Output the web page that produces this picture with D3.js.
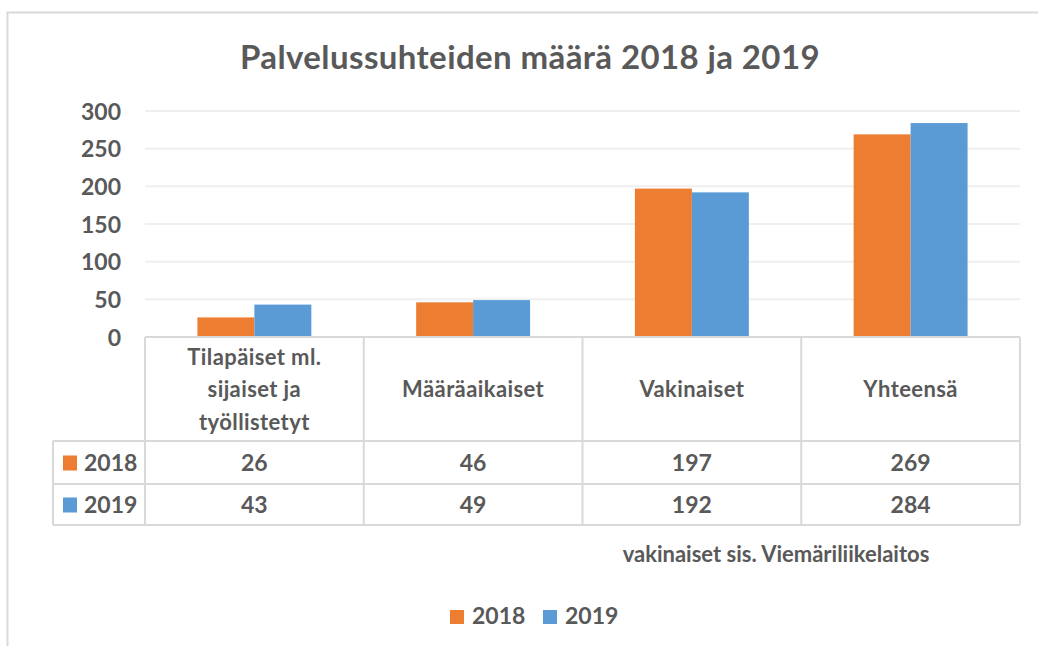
<!DOCTYPE html>
<html>
<head>
<meta charset="utf-8">
<script src="https://cdn.jsdelivr.net/npm/d3@7"></script>
<style>
  body { margin: 0; background: #fff; }
  text { font-family: Lato, "Open Sans", sans-serif; font-weight: bold; fill: #595959; }
</style>
</head>
<body>
<div id="chart"></div>
<script>
// chart data
const categories = [
  ['Tilapäiset ml.', 'sijaiset ja', 'työllistetyt'],
  ['Määräaikaiset'],
  ['Vakinaiset'],
  ['Yhteensä']
]
const years = ['2018', '2019']
const values2018 = [26, 46, 197, 269]
const values2019 = [43, 49, 192, 284]
const yTicks = [0, 50, 100, 150, 200, 250, 300]
const colors = ['#ED7D31', '#5B9BD5']

const width = 1038, height = 646
const plot = { left: 145, right: 1020, top: 111, bottom: 337 }
const tableLeft = 53
const rowEdges = [337, 441, 484, 525]

const svg = d3.select('#chart').append('svg')
  .attr('width', width)
  .attr('height', height)

// outer frame (only top and left edges are visible in the picture)
svg.append('path')
  .attr('d', `M7.5,${height} V12.5 H${width}`)
  .attr('fill', 'none')
  .attr('stroke', '#d9d9d9')
  .attr('stroke-width', 2)

svg.append('text')
  .attr('x', 530)
  .attr('y', 69)
  .attr('text-anchor', 'middle')
  .style('font-size', '33px')
  .style('letter-spacing', '0.4px')
  .text('Palvelussuhteiden määrä 2018 ja 2019')

const y = d3.scaleLinear().domain([0, 300]).range([plot.bottom, plot.top])
const keys = categories.map((c, i) => i)
const x = d3.scaleBand().domain(keys).range([plot.left, plot.right])
const xInner = d3.scaleBand().domain(years).range([0, x.bandwidth()]).paddingInner(0).paddingOuter(0.92)

// gridlines
svg.append('g')
  .selectAll('line')
  .data(yTicks.filter(d => d > 0))
  .join('line')
  .attr('x1', plot.left)
  .attr('x2', plot.right)
  .attr('y1', d => y(d))
  .attr('y2', d => y(d))
  .attr('stroke', '#efefef')
  .attr('stroke-width', 2)

// y labels
svg.append('g')
  .selectAll('text')
  .data(yTicks)
  .join('text')
  .attr('x', 121)
  .attr('y', d => y(d) + 8.5)
  .attr('text-anchor', 'end')
  .style('font-size', '23px')
  .text(d => d)

// bars
const series = [values2018, values2019]
const barGroup = svg.append('g')
series.forEach((vals, s) => {
  barGroup.append('g')
    .selectAll('rect')
    .data(vals)
    .join('rect')
    .attr('x', (d, i) => x(i) + xInner(years[s]))
    .attr('width', xInner.bandwidth())
    .attr('y', d => y(d))
    .attr('height', d => y(0) - y(d))
    .attr('fill', colors[s])
})

// data table
const table = svg.append('g')
const border = '#d9d9d9'
// horizontal lines
table.append('line')
  .attr('x1', plot.left).attr('x2', plot.right)
  .attr('y1', rowEdges[0]).attr('y2', rowEdges[0])
  .attr('stroke', border).attr('stroke-width', 2)
rowEdges.slice(1).forEach(ry => {
  table.append('line')
    .attr('x1', tableLeft).attr('x2', plot.right)
    .attr('y1', ry).attr('y2', ry)
    .attr('stroke', border).attr('stroke-width', 2)
})
// vertical lines
const colEdges = keys.map(k => x(k)).concat([plot.right])
colEdges.forEach(cx => {
  table.append('line')
    .attr('x1', cx).attr('x2', cx)
    .attr('y1', rowEdges[0]).attr('y2', rowEdges[3])
    .attr('stroke', border).attr('stroke-width', 2)
})
table.append('line')
  .attr('x1', tableLeft).attr('x2', tableLeft)
  .attr('y1', rowEdges[1]).attr('y2', rowEdges[3])
  .attr('stroke', border).attr('stroke-width', 2)

// header labels
const lineGap = 32.5
categories.forEach((lines, i) => {
  const cy = (rowEdges[0] + rowEdges[1]) / 2
  const y0 = cy - (lines.length - 1) * lineGap / 2
  table.append('text')
    .attr('text-anchor', 'middle')
    .style('font-size', '22px')
    .style('letter-spacing', '0.4px')
    .selectAll('tspan')
    .data(lines)
    .join('tspan')
    .attr('x', x(i) + x.bandwidth() / 2)
    .attr('y', (d, j) => y0 + j * lineGap + 8)
    .text(d => d)
})

// value rows
series.forEach((vals, s) => {
  const cy = (rowEdges[s + 1] + rowEdges[s + 2]) / 2
  table.append('g')
    .selectAll('text')
    .data(vals)
    .join('text')
    .attr('x', (d, i) => x(i) + x.bandwidth() / 2)
    .attr('y', cy + 8.5)
    .attr('text-anchor', 'middle')
    .style('font-size', '23px')
    .text(d => d)
  table.append('rect')
    .attr('x', 63).attr('y', cy - 7)
    .attr('width', 14).attr('height', 15)
    .attr('fill', colors[s])
  table.append('text')
    .attr('x', 84).attr('y', cy + 8.5)
    .style('font-size', '23px')
    .text(years[s])
})

// footnote
svg.append('text')
  .attr('x', 776)
  .attr('y', 562)
  .attr('text-anchor', 'middle')
  .style('font-size', '22px')
  .text('vakinaiset sis. Viemäriliikelaitos')

// legend
const legend = svg.append('g')
const legendX = [450, 543]
years.forEach((yr, s) => {
  legend.append('rect')
    .attr('x', legendX[s]).attr('y', 610)
    .attr('width', 14).attr('height', 14)
    .attr('fill', colors[s])
  legend.append('text')
    .attr('x', legendX[s] + 22).attr('y', 624)
    .style('font-size', '23px')
    .text(yr)
})
</script>
</body>
</html>
